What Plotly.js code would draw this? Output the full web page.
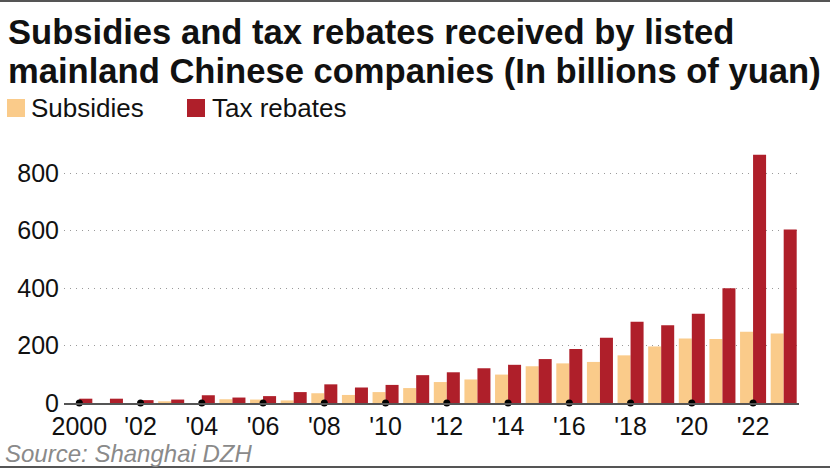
<!DOCTYPE html>
<html>
<head>
<meta charset="utf-8">
<script src="https://cdn.plot.ly/plotly-3.0.1.min.js"></script>
<style>html,body{margin:0;padding:0;background:#fff;}#chart{width:830px;height:469px;}</style>
</head>
<body>
<div id="chart"></div>
<script>
const years = [2000,2001,2002,2003,2004,2005,2006,2007,2008,2009,2010,2011,2012,2013,2014,2015,2016,2017,2018,2019,2020,2021,2022,2023];
const subsidies = [0,0,0,6,0,13,12,9,34,28,38,52,73,82,99,128,138,143,166,197,225,223,248,242];
const taxRebates = [15,15,10,12,27,19,24,38,65,54,63,97,107,121,133,153,188,227,283,271,311,400,865,604];
const tickYears = [2000,2002,2004,2006,2008,2010,2012,2014,2016,2018,2020,2022];
const tickLabels = ['2000',"'02","'04","'06","'08","'10","'12","'14","'16","'18","'20","'22"];
const yTicks = [0,200,400,600,800];
const seriesNames = ['Subsidies','Tax rebates'];
const colors = ['#FACB8A','#AF1F2A'];
const titleLines = ['Subsidies and tax rebates received by listed','mainland Chinese companies (In billions of yuan)'];
const sourceText = 'Source: Shanghai DZH';

const W = 830, H = 469;
const M = {l:64, r:31, t:140, b:66};
const pw = W - M.l - M.r, ph = H - M.t - M.b;
const px = x => (x - M.l) / pw;
const py = y => (H - M.b - y) / ph;
const FONT = 'Liberation Sans, Arial, Helvetica, sans-serif';

const traces = [
  {type:'bar', x:years, y:subsidies, name:seriesNames[0], marker:{color:colors[0]}, hoverinfo:'x+y'},
  {type:'bar', x:years, y:taxRebates, name:seriesNames[1], marker:{color:colors[1]}, hoverinfo:'x+y'},
  {type:'scatter', mode:'markers', x:tickYears, y:tickYears.map(()=>0), marker:{color:'#000', size:7}, cliponaxis:false, showlegend:false, hoverinfo:'skip'}
];

const annotations = [
  {text:'<b>'+titleLines[0]+'</b>', x:px(6), y:py(32), xref:'paper', yref:'paper', xanchor:'left', yanchor:'middle', showarrow:false, font:{family:FONT, size:34.6, color:'#111'}},
  {text:'<b>'+titleLines[1]+'</b>', x:px(6), y:py(71), xref:'paper', yref:'paper', xanchor:'left', yanchor:'middle', showarrow:false, font:{family:FONT, size:34.6, color:'#111'}},
  {text:seriesNames[0], x:px(29), y:py(108), xref:'paper', yref:'paper', xanchor:'left', yanchor:'middle', showarrow:false, font:{family:FONT, size:26, color:'#111'}},
  {text:seriesNames[1], x:px(210), y:py(108), xref:'paper', yref:'paper', xanchor:'left', yanchor:'middle', showarrow:false, font:{family:FONT, size:26, color:'#111'}},
  {text:'<i>'+sourceText+'</i>', x:px(3), y:py(453), xref:'paper', yref:'paper', xanchor:'left', yanchor:'middle', showarrow:false, font:{family:FONT, size:24, color:'#8a8a8a'}}
];

const shapes = [
  {type:'rect', xref:'paper', yref:'paper', x0:px(7), x1:px(25), y0:py(117), y1:py(99), fillcolor:colors[0], line:{width:0}},
  {type:'rect', xref:'paper', yref:'paper', x0:px(187), x1:px(205), y0:py(117), y1:py(99), fillcolor:colors[1], line:{width:0}},
  {type:'line', xref:'paper', yref:'paper', x0:px(0), x1:px(W), y0:py(1), y1:py(1), line:{color:'#555', width:2}},
  {type:'line', xref:'paper', yref:'paper', x0:px(0), x1:px(W), y0:py(467), y1:py(467), line:{color:'#555', width:2}}
];

const layout = {
  width:W, height:H,
  margin:M,
  paper_bgcolor:'#fff', plot_bgcolor:'#fff',
  showlegend:false,
  barmode:'group', bargap:0.15, bargroupgap:0,
  font:{family:FONT, color:'#111'},
  xaxis:{range:[1999.5,2023.5], tickvals:tickYears, ticktext:tickLabels, ticks:'', showgrid:false, zeroline:false,
         showline:true, linecolor:'#555', linewidth:1.5, tickfont:{family:FONT, size:25, color:'#111'}, fixedrange:true},
  yaxis:{range:[0,916], tickvals:yTicks, ticks:'', showgrid:true, gridcolor:'#9a9a9a', griddash:'1px,5px', gridwidth:1.2,
         zeroline:false, showline:false, tickfont:{family:FONT, size:25, color:'#111'}, ticklabelstandoff:4, fixedrange:true},
  annotations:annotations,
  shapes:shapes
};

Plotly.newPlot('chart', traces, layout, {displayModeBar:false, staticPlot:true});
</script>
</body>
</html>
